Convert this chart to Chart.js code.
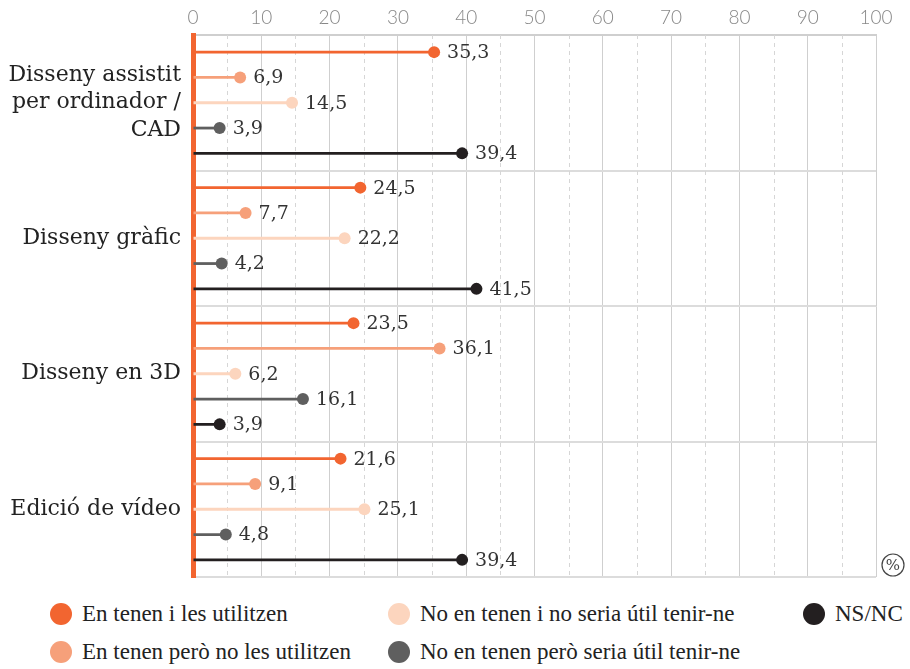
<!DOCTYPE html>
<html>
<head>
<meta charset="utf-8">
<script src="https://cdn.jsdelivr.net/npm/chart.js@4.4.0/dist/chart.umd.min.js"></script>
<style>
  body { margin: 0; background: #fff; }
  #wrap { position: relative; width: 910px; height: 669px; }
  #legend { position: absolute; left: 0; top: 601px; width: 910px; height: 68px;
    font-family: "Liberation Serif", serif; font-size: 23px; color: #222; }
  .item { position: absolute; display: flex; align-items: center; white-space: nowrap; }
  .dot { width: 22px; height: 22px; border-radius: 50%; margin-right: 10px; }
</style>
</head>
<body>
<div id="wrap">
  <canvas id="chart" width="910" height="590"></canvas>
  <div id="legend"></div>
</div>
<script>
const categories = [
  ["Disseny assistit", "per ordinador /", "CAD"],
  "Disseny gràfic",
  "Disseny en 3D",
  "Edició de vídeo"
];
const seriesNames = [
  "En tenen i les utilitzen",
  "En tenen però no les utilitzen",
  "No en tenen i no seria útil tenir-ne",
  "No en tenen però seria útil tenir-ne",
  "NS/NC"
];
const seriesColors = ["#F26530", "#F6A07A", "#FCD5BE", "#5F5F5F", "#231F20"];
const usedValues     = [35.3, 24.5, 23.5, 21.6];
const notUsedValues  = [6.9, 7.7, 36.1, 9.1];
const notUsefulValues = [14.5, 22.2, 6.2, 25.1];
const usefulValues   = [3.9, 4.2, 16.1, 4.8];
const nsncValues     = [39.4, 41.5, 3.9, 39.4];
const xTicks = [0, 10, 20, 30, 40, 50, 60, 70, 80, 90, 100];

const allValues = [usedValues, notUsedValues, notUsefulValues, usefulValues, nsncValues];

const serif = "'DejaVu Serif', serif";

const lollipop = {
  id: 'lollipop',
  beforeDatasetsDraw(chart) {
    const { ctx, chartArea, scales } = chart;
    ctx.save();
    ctx.strokeStyle = '#d6d6d6';
    ctx.lineWidth = 1;
    ctx.setLineDash([4, 4]);
    for (let v = 5; v < 100; v += 10) {
      const x = Math.round(scales.x.getPixelForValue(v)) + 0.5;
      ctx.beginPath();
      ctx.moveTo(x, chartArea.top);
      ctx.lineTo(x, chartArea.bottom);
      ctx.stroke();
    }
    ctx.restore();
  },
  afterDatasetsDraw(chart) {
    const { ctx, chartArea } = chart;
    ctx.save();
    chart.data.datasets.forEach((ds, i) => {
      const meta = chart.getDatasetMeta(i);
      meta.data.forEach((bar, j) => {
        ctx.fillStyle = ds.backgroundColor;
        ctx.beginPath();
        ctx.arc(bar.x, bar.y, 6, 0, Math.PI * 2);
        ctx.fill();
        ctx.fillStyle = '#333';
        ctx.font = "19px " + serif;
        ctx.textBaseline = 'middle';
        ctx.fillText(ds.data[j].toFixed(1).replace('.', ','), bar.x + 13, bar.y + 1);
      });
    });
    // % marker
    const cx = chartArea.right + 17, cy = chartArea.bottom - 12;
    ctx.strokeStyle = '#444';
    ctx.lineWidth = 1.2;
    ctx.beginPath();
    ctx.arc(cx, cy, 11, 0, Math.PI * 2);
    ctx.stroke();
    ctx.fillStyle = '#444';
    ctx.font = "15px " + serif;
    ctx.textAlign = 'center';
    ctx.fillText('%', cx, cy + 1);
    ctx.restore();
  }
};

new Chart(document.getElementById('chart'), {
  type: 'bar',
  data: {
    labels: categories,
    datasets: allValues.map((vals, i) => ({
      label: seriesNames[i],
      data: vals,
      backgroundColor: seriesColors[i],
      barPercentage: 0.11,
      categoryPercentage: 0.934
    }))
  },
  options: {
    indexAxis: 'y',
    responsive: false,
    animation: false,
    layout: { padding: { left: 0, right: 34, top: 0, bottom: 13 } },
    plugins: { legend: { display: false }, tooltip: { enabled: false } },
    scales: {
      x: {
        position: 'top',
        min: 0,
        max: 100,
        afterFit(scale) { scale.height = 35; scale.paddingLeft = 0; scale.paddingRight = 0; },
        afterBuildTicks(scale) { scale.ticks = xTicks.map(v => ({ value: v })); },
        ticks: {
          padding: 6,
          color: '#888',
          font: { family: 'Lato', size: 19, weight: '300' }
        },
        grid: { color: '#cfcfcf', lineWidth: 1, drawTicks: false },
        border: { color: '#cfcfcf', width: 2 }
      },
      y: {
        afterFit(scale) { scale.width = 193; scale.paddingTop = 0; scale.paddingBottom = 0; },
        ticks: {
          padding: 12,
          color: '#222',
          font: { family: 'DejaVu Serif', size: 22, lineHeight: 1.25 }
        },
        grid: { offset: true, color: '#dcdcdc', lineWidth: 2, drawTicks: false },
        border: { color: '#F26530', width: 5 }
      }
    }
  },
  plugins: [lollipop]
});

// legend laid out in columns like the original
const legendPos = [[50, 0], [50, 38], [388, 0], [388, 38], [803, 0]];
const legend = document.getElementById('legend');
seriesNames.forEach((name, i) => {
  const item = document.createElement('div');
  item.className = 'item';
  item.style.left = legendPos[i][0] + 'px';
  item.style.top = legendPos[i][1] + 'px';
  item.innerHTML = '<span class="dot" style="background:' + seriesColors[i] + '"></span>' + name;
  legend.appendChild(item);
});
</script>
</body>
</html>
